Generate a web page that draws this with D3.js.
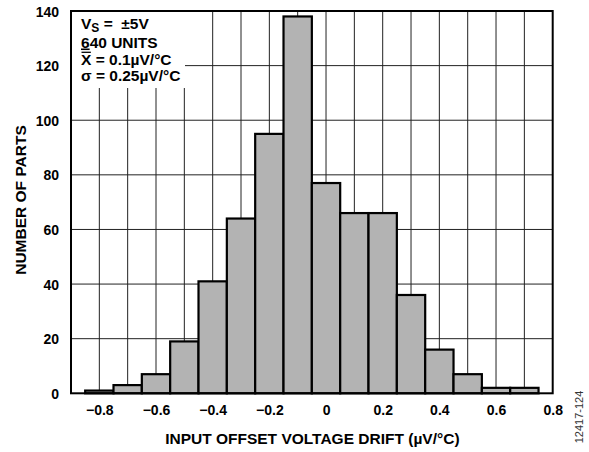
<!DOCTYPE html>
<html>
<head>
<meta charset="utf-8">
<script src="https://cdn.jsdelivr.net/npm/d3@7/dist/d3.min.js"></script>
<style>
  html, body { margin: 0; padding: 0; background: #fff; }
  svg text { font-family: "Liberation Sans", Arial, sans-serif; font-weight: bold; fill: #000; }
</style>
</head>
<body>
<svg id="chart" width="589" height="452"></svg>
<script>
// Data
const binCenters = [-0.8, -0.7, -0.6, -0.5, -0.4, -0.3, -0.2, -0.1, 0, 0.1, 0.2, 0.3, 0.4, 0.5, 0.6, 0.7];
const counts     = [1, 3, 7, 19, 41, 64, 95, 138, 77, 66, 66, 36, 16, 7, 2, 2];
const binWidth = 0.1;
const xTickValues = [-0.8, -0.6, -0.4, -0.2, 0, 0.2, 0.4, 0.6, 0.8];
const yTickValues = [0, 20, 40, 60, 80, 100, 120, 140];
const xGridValues = [-0.8, -0.7, -0.6, -0.5, -0.4, -0.3, -0.2, -0.1, 0, 0.1, 0.2, 0.3, 0.4, 0.5, 0.6, 0.7];
const yGridValues = [20, 40, 60, 80, 100, 120];
const xTitle = "INPUT OFFSET VOLTAGE DRIFT (µV/°C)";
const yTitle = "NUMBER OF PARTS";
const sideLabel = "12417-124";

const svg = d3.select("#chart");
const L = 71, R = 552.7, T = 11, B = 393.3;

const x = d3.scaleLinear().domain([-0.9, 0.8]).range([L, R]);
const y = d3.scaleLinear().domain([0, 140]).range([B, T]);

// Grid
svg.append("g").selectAll("line").data(xGridValues).join("line")
  .attr("x1", d => x(d)).attr("x2", d => x(d))
  .attr("y1", T).attr("y2", B)
  .attr("stroke", "#222").attr("stroke-width", 1);
svg.append("g").selectAll("line").data(yGridValues).join("line")
  .attr("x1", L).attr("x2", R)
  .attr("y1", d => y(d)).attr("y2", d => y(d))
  .attr("stroke", "#222").attr("stroke-width", 1);

// Annotation background
svg.append("rect").attr("x", L).attr("y", T).attr("width", 185 - L).attr("height", 88 - T).attr("fill", "#fff");

// Bars
svg.append("g").selectAll("rect").data(binCenters).join("rect")
  .attr("x", (d) => x(d - binWidth / 2))
  .attr("width", (d) => x(d + binWidth / 2) - x(d - binWidth / 2))
  .attr("y", (d, i) => y(counts[i]))
  .attr("height", (d, i) => y(0) - y(counts[i]))
  .attr("fill", "#b3b3b3")
  .attr("stroke", "#000")
  .attr("stroke-width", 2.2);

// Border
svg.append("rect").attr("x", L).attr("y", T).attr("width", R - L).attr("height", B - T)
  .attr("fill", "none").attr("stroke", "#000").attr("stroke-width", 2);

// Axes
const yAxis = svg.append("g").attr("transform", `translate(${L},0)`)
  .call(d3.axisLeft(y).tickValues(yTickValues).tickSize(0).tickPadding(12).tickFormat(d3.format("d")));
yAxis.select(".domain").remove();
yAxis.selectAll("text").style("font-size", "14px").style("font-family", "Liberation Sans, Arial, sans-serif").style("font-weight", "bold").attr("dy", "0.36em");

const xAxis = svg.append("g").attr("transform", `translate(0,${B})`)
  .call(d3.axisBottom(x).tickValues(xTickValues).tickSize(0).tickPadding(0)
    .tickFormat(d => d === 0 ? "0" : d3.format(".1f")(d)));
xAxis.select(".domain").remove();
xAxis.selectAll("text").style("font-size", "14px").style("font-family", "Liberation Sans, Arial, sans-serif").style("font-weight", "bold")
  .attr("dy", null).attr("y", 21.5);

// Titles
svg.append("text").attr("x", (L + R) / 2 + 0.5).attr("y", 444).attr("text-anchor", "middle")
  .style("font-size", "15.5px").text(xTitle);
svg.append("text").attr("transform", "translate(26,200) rotate(-90)").attr("text-anchor", "middle")
  .style("font-size", "15.5px").text(yTitle);

// Side label
svg.append("text").attr("transform", "translate(583,417) rotate(-90)").attr("text-anchor", "middle")
  .style("font-size", "11px").style("font-weight", "normal").style("fill", "#333").text(sideLabel);

// Annotation
const ann = svg.append("g").style("font-size", "15.5px");
const t1 = ann.append("text").attr("x", 81).attr("y", 29).style("white-space", "pre");
t1.append("tspan").text("V");
t1.append("tspan").attr("dy", 3).style("font-size", "12px").text("S");
t1.append("tspan").attr("dy", -3).text(" =  ±5V");
const t2 = ann.append("text").attr("x", 81).attr("y", 47.5);
t2.append("tspan").style("text-decoration", "underline").text("6");
t2.append("tspan").text("40 UNITS");
const xBar = ann.append("text").attr("x", 81).attr("y", 64.5).text("X");
const xw = xBar.node().getComputedTextLength();
ann.append("text").attr("x", 81 + xw).attr("y", 64.5).style("white-space", "pre").text(" = 0.1µV/°C");
ann.append("line").attr("x1", 81.5).attr("x2", 81 + xw - 0.5)
  .attr("y1", 52.3).attr("y2", 52.3).attr("stroke", "#000").attr("stroke-width", 1.3);
ann.append("text").attr("x", 81).attr("y", 80.5).text("σ = 0.25µV/°C");
</script>
</body>
</html>
